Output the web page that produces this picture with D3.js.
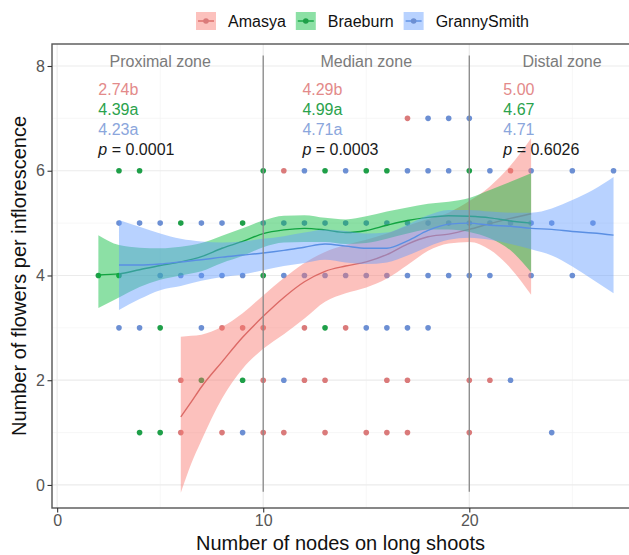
<!DOCTYPE html>
<meta charset="utf-8">
<style>
body { margin: 0; background: #fff; }
svg { font-family: "Liberation Sans", Arial, sans-serif; }
</style>
<svg width="629" height="555"></svg>
<script src="https://d3js.org/d3.v7.min.js"></script>
<script>

// ---- data ----
var varieties = ["Amasya", "Braeburn", "GrannySmith"];

// observed points (x = nodes, y = flowers)
var amasyaX = [17, 11, 22, 8, 9, 10, 12, 14, 6, 10, 12, 13, 16, 17, 20, 21, 6, 8, 10, 11, 13, 15, 16, 17, 20];
var amasyaY = [7, 6, 6, 3, 3, 3, 3, 3, 2, 2, 2, 2, 2, 2, 2, 2, 1, 1, 1, 1, 1, 1, 1, 1, 1];

var braeburnX = [3, 4, 10, 13, 15, 16, 20, 6, 9, 2, 3, 10, 5, 13, 7, 9, 4, 5];
var braeburnY = [6, 6, 6, 6, 6, 6, 6, 5, 5, 4, 4, 4, 3, 3, 2, 2, 1, 1];

var grannyX = [18, 19, 20,
  12, 14, 17, 18, 19, 21, 23, 25, 27,
  3, 4, 5, 7, 8, 10, 11, 12, 13, 14, 15, 16, 17, 18, 19, 20, 21, 22, 23, 24, 26,
  5, 6, 7, 8, 9, 11, 12, 13, 14, 15, 16, 17, 18, 19, 20, 21, 23, 25,
  3, 4, 7, 15, 16, 17, 18,
  11, 22,
  9, 24];
var grannyY = [7, 7, 7,
  6, 6, 6, 6, 6, 6, 6, 6, 6,
  5, 5, 5, 5, 5, 5, 5, 5, 5, 5, 5, 5, 5, 5, 5, 5, 5, 5, 5, 5, 5,
  4, 4, 4, 4, 4, 4, 4, 4, 4, 4, 4, 4, 4, 4, 4, 4, 4, 4,
  3, 3, 3, 3, 3, 3, 3,
  2, 2,
  1, 1];

// loess fits and confidence bands
var amasyaFitX = [6, 6.5, 7, 8, 9, 10, 11, 12, 13, 14, 15, 16, 17, 18, 19, 20, 21, 22, 23];
var amasyaFit  = [1.30, 1.58, 1.87, 2.35, 2.82, 3.22, 3.58, 3.88, 4.08, 4.18, 4.26, 4.40, 4.60, 4.74, 4.79, 4.88, 4.99, 5.09, 5.18];
var amasyaLo   = [-0.15, 0.40, 0.85, 1.65, 2.22, 2.60, 2.88, 3.18, 3.50, 3.66, 3.77, 3.94, 4.20, 4.47, 4.61, 4.64, 4.49, 4.14, 3.63];
var amasyaHi   = [2.83, 2.85, 2.87, 3.02, 3.28, 3.62, 3.95, 4.24, 4.45, 4.58, 4.68, 4.80, 4.95, 5.08, 5.20, 5.42, 5.70, 6.10, 6.62];

var braeburnFitX = [2, 3, 4, 5, 6, 7, 8, 9, 10, 11, 12, 13, 14, 15, 16, 17, 18, 19, 20, 21, 22, 23];
var braeburnFit  = [4.01, 4.03, 4.11, 4.19, 4.26, 4.36, 4.52, 4.65, 4.80, 4.87, 4.90, 4.87, 4.82, 4.86, 4.96, 5.05, 5.11, 5.14, 5.13, 5.10, 5.04, 5.00];
var braeburnLo   = [3.38, 3.58, 3.78, 3.92, 4.00, 4.08, 4.24, 4.37, 4.54, 4.63, 4.64, 4.64, 4.60, 4.62, 4.70, 4.80, 4.88, 4.88, 4.83, 4.71, 4.48, 4.06];
var braeburnHi   = [4.77, 4.58, 4.53, 4.52, 4.55, 4.62, 4.76, 4.90, 5.05, 5.14, 5.15, 5.10, 5.07, 5.13, 5.22, 5.30, 5.37, 5.41, 5.48, 5.63, 5.79, 5.95];

var grannyFitX = [3, 4, 5, 6, 7, 8, 9, 10, 11, 12, 13, 14, 15, 16, 17, 18, 19, 20, 21, 22, 23, 24, 25, 26, 27];
var grannyFit  = [4.20, 4.20, 4.22, 4.26, 4.30, 4.35, 4.39, 4.43, 4.48, 4.54, 4.60, 4.56, 4.52, 4.52, 4.66, 4.86, 4.98, 5.00, 4.96, 4.94, 4.90, 4.88, 4.84, 4.81, 4.77];
var grannyLo   = [3.34, 3.55, 3.72, 3.80, 3.90, 3.97, 4.02, 4.10, 4.18, 4.24, 4.30, 4.25, 4.22, 4.25, 4.38, 4.55, 4.68, 4.72, 4.68, 4.60, 4.50, 4.38, 4.17, 3.92, 3.66];
var grannyHi   = [5.06, 4.93, 4.80, 4.70, 4.65, 4.63, 4.65, 4.70, 4.75, 4.82, 4.88, 4.85, 4.80, 4.82, 4.97, 5.15, 5.25, 5.25, 5.22, 5.20, 5.20, 5.28, 5.44, 5.63, 5.88];

// zone annotations
var zoneNames = ["Proximal zone", "Median zone", "Distal zone"];
var zoneCentre = [5, 15, 24.5];
var zoneLeft = [2, 11.9, 21.65];
var amasyaMeans = ["2.74b", "4.29b", "5.00"];
var braeburnMeans = ["4.39a", "4.99a", "4.67"];
var grannyMeans = ["4.23a", "4.71a", "4.71"];
var pValues = ["0.0001", "0.0003", "0.6026"];
var zoneBreaks = [10, 20];

var xTicks = [0, 10, 20];
var yTicks = [0, 2, 4, 6, 8];

// ---- drawing ----
var svg = d3.select("svg");
var pLeft = 52, pRight = 629, pTop = 44, pBottom = 508;

var x = d3.scaleLinear().domain([-0.25, 27.75]).range([pLeft, pRight]);
var y = d3.scaleLinear().domain([-0.44, 8.42]).range([pBottom, pTop]);

var fillCol = {Amasya: "#F8766D", Braeburn: "#00BA38", GrannySmith: "#619CFF"};
var pointCol = {Amasya: "#DA7A7A", Braeburn: "#1E9F48", GrannySmith: "#6C8FD3"};
var lineCol = {Amasya: "#DC6A66", Braeburn: "#12A441", GrannySmith: "#5A8FE3"};
var textCol = {Amasya: "#E38A8A", Braeburn: "#2AA24C", GrannySmith: "#8BA6DC"};

// grid
var grid = svg.append("g");
[1, 3, 5, 7].forEach(function(v) {
  grid.append("line").attr("x1", pLeft).attr("x2", pRight + 10)
    .attr("y1", y(v)).attr("y2", y(v))
    .attr("stroke", "#f3f3f3").attr("stroke-width", 0.7);
});
[5, 15, 25].forEach(function(v) {
  grid.append("line").attr("x1", x(v)).attr("x2", x(v))
    .attr("y1", pTop).attr("y2", pBottom)
    .attr("stroke", "#f3f3f3").attr("stroke-width", 0.7);
});
yTicks.forEach(function(v) {
  grid.append("line").attr("x1", pLeft).attr("x2", pRight + 10)
    .attr("y1", y(v)).attr("y2", y(v))
    .attr("stroke", "#ebebeb").attr("stroke-width", 1.2);
});
xTicks.forEach(function(v) {
  grid.append("line").attr("x1", x(v)).attr("x2", x(v))
    .attr("y1", pTop).attr("y2", pBottom)
    .attr("stroke", "#ebebeb").attr("stroke-width", 1.2);
});

// points
function pts(xs, ys, name) {
  svg.append("g").selectAll("circle")
    .data(xs.map(function(d, i) { return [d, ys[i]]; }))
    .enter().append("circle")
      .attr("cx", function(d) { return x(d[0]); })
      .attr("cy", function(d) { return y(d[1]); })
      .attr("r", 2.8)
      .attr("fill", pointCol[name]);
}
pts(amasyaX, amasyaY, "Amasya");
pts(braeburnX, braeburnY, "Braeburn");
pts(grannyX, grannyY, "GrannySmith");

// smooths
function smooth(xs, fit, lo, hi, name) {
  var rows = xs.map(function(d, i) { return {x: d, f: fit[i], lo: lo[i], hi: hi[i]}; });
  var area = d3.area()
    .x(function(d) { return x(d.x); })
    .y0(function(d) { return y(d.lo); })
    .y1(function(d) { return y(d.hi); })
    .curve(d3.curveMonotoneX);
  var line = d3.line()
    .x(function(d) { return x(d.x); })
    .y(function(d) { return y(d.f); })
    .curve(d3.curveMonotoneX);
  svg.append("path").datum(rows).attr("d", area)
    .attr("fill", fillCol[name]).attr("fill-opacity", 0.45);
  svg.append("path").datum(rows).attr("d", line)
    .attr("fill", "none").attr("stroke", lineCol[name]).attr("stroke-width", 1.4);
}
smooth(amasyaFitX, amasyaFit, amasyaLo, amasyaHi, "Amasya");
smooth(braeburnFitX, braeburnFit, braeburnLo, braeburnHi, "Braeburn");
smooth(grannyFitX, grannyFit, grannyLo, grannyHi, "GrannySmith");

// zone boundaries
zoneBreaks.forEach(function(v) {
  svg.append("line").attr("x1", x(v)).attr("x2", x(v))
    .attr("y1", y(8.2)).attr("y2", y(-0.13))
    .attr("stroke", "#8a8a8a").attr("stroke-width", 1.3);
});

// zone text
zoneNames.forEach(function(z, i) {
  svg.append("text").attr("x", x(zoneCentre[i])).attr("y", y(8.08) + 5.6)
    .attr("text-anchor", "middle").attr("font-size", 16).attr("fill", "#7b7b7b")
    .text(z);
  var rowsText = [[amasyaMeans[i], textCol.Amasya], [braeburnMeans[i], textCol.Braeburn], [grannyMeans[i], textCol.GrannySmith]];
  rowsText.forEach(function(r, j) {
    svg.append("text").attr("x", x(zoneLeft[i])).attr("y", 95 + j * 20)
      .attr("font-size", 16).attr("fill", r[1]).text(r[0]);
  });
  var pt = svg.append("text").attr("x", x(zoneLeft[i])).attr("y", 155)
    .attr("font-size", 16).attr("fill", "#1a1a1a");
  pt.append("tspan").attr("font-style", "italic").text("p");
  pt.append("tspan").text(" = " + pValues[i]);
});

// panel border
svg.append("rect").attr("x", pLeft).attr("y", pTop)
  .attr("width", pRight - pLeft + 20).attr("height", pBottom - pTop)
  .attr("fill", "none").attr("stroke", "#555").attr("stroke-width", 1.4);

// axes
var gy = svg.append("g").attr("transform", "translate(" + pLeft + ",0)")
  .call(d3.axisLeft(y).tickValues(yTicks).tickSize(4.5).tickPadding(2.5).tickFormat(d3.format("d")));
var gx = svg.append("g").attr("transform", "translate(0," + pBottom + ")")
  .call(d3.axisBottom(x).tickValues(xTicks).tickSize(4.5).tickPadding(2.5).tickFormat(d3.format("d")));
[gx, gy].forEach(function(g) {
  g.select(".domain").remove();
  g.selectAll(".tick line").attr("stroke", "#333").attr("stroke-width", 1.1);
  g.selectAll(".tick text").attr("fill", "#555").attr("font-size", 16)
    .attr("font-family", "'Liberation Sans', Arial, sans-serif");
});

// axis titles
svg.append("text").attr("x", (pLeft + pRight) / 2).attr("y", 550)
  .attr("text-anchor", "middle").attr("font-size", 20).attr("fill", "#111")
  .text("Number of nodes on long shoots");
svg.append("text").attr("transform", "translate(26," + ((pTop + pBottom) / 2) + ") rotate(-90)")
  .attr("text-anchor", "middle").attr("font-size", 20).attr("fill", "#111")
  .text("Number of flowers per inflorescence");

// legend
var lg = svg.append("g");
var lx = 196, ly = 21;
varieties.forEach(function(name) {
  lg.append("rect").attr("x", lx).attr("y", ly - 9).attr("width", 20).attr("height", 18)
    .attr("fill", fillCol[name]).attr("fill-opacity", 0.45);
  lg.append("line").attr("x1", lx + 2).attr("x2", lx + 18).attr("y1", ly).attr("y2", ly)
    .attr("stroke", lineCol[name]).attr("stroke-width", 1.4);
  lg.append("circle").attr("cx", lx + 10).attr("cy", ly).attr("r", 2.8).attr("fill", pointCol[name]);
  var t = lg.append("text").attr("x", lx + 32).attr("y", ly + 5.6)
    .attr("font-size", 16).attr("fill", "#111").text(name);
  lx = lx + 32 + t.node().getComputedTextLength() + 10;
});

</script>
